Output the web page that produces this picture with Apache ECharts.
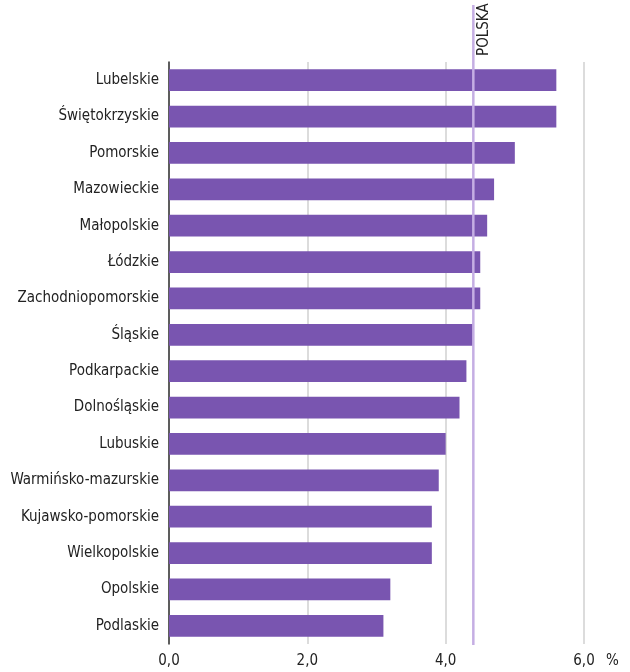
<!DOCTYPE html>
<html><head><meta charset="utf-8">
<script src="https://cdn.jsdelivr.net/npm/echarts@6/dist/echarts.min.js"></script>
<style>html,body{margin:0;padding:0;background:#fff}#c{width:630px;height:672px}</style>
</head><body><div id="c"></div>
<script>
const categories = ["Lubelskie","Świętokrzyskie","Pomorskie","Mazowieckie","Małopolskie","Łódzkie","Zachodniopomorskie","Śląskie","Podkarpackie","Dolnośląskie","Lubuskie","Warmińsko-mazurskie","Kujawsko-pomorskie","Wielkopolskie","Opolskie","Podlaskie"];
const values = [5.6,5.6,5.0,4.7,4.6,4.5,4.5,4.4,4.3,4.2,4.0,3.9,3.8,3.8,3.2,3.1];
const polskaValue = 4.4;
const polskaLabel = "POLSKA";
const unit = "%";

const FONT = '"DejaVu Sans Condensed","Liberation Sans Narrow",sans-serif';
const chart = echarts.init(document.getElementById('c'));
chart.setOption({
  animation:false,
  grid:{left:169,right:46,top:62,bottom:28,containLabel:false},
  xAxis:{type:'value',min:0,max:6,interval:2,
    name:unit,nameLocation:'end',nameGap:22,
    nameTextStyle:{fontFamily:FONT,fontSize:15,color:'#222',verticalAlign:'top',padding:[10,0,0,0]},
    axisLine:{show:false},axisTick:{show:false},
    axisLabel:{fontFamily:FONT,fontSize:15,color:'#222',margin:10,
      formatter:v=>v.toFixed(1).replace('.',',')},
    splitLine:{show:true,lineStyle:{color:'#dcdcdc',width:2}}},
  yAxis:{type:'category',data:categories,inverse:true,
    axisLine:{show:true,lineStyle:{color:'#333',width:1.5}},
    axisTick:{show:false},
    axisLabel:{fontFamily:FONT,fontSize:15,color:'#222',margin:10}},
  series:[{type:'bar',data:values,barCategoryGap:'40%',
    itemStyle:{color:'#7955b0'}}]
});
const px = chart.convertToPixel({xAxisIndex:0}, polskaValue);
chart.setOption({graphic:[
  {type:'line',z:10,shape:{x1:px,y1:5,x2:px,y2:645},style:{stroke:'#c5aee3',lineWidth:2.5}},
  {type:'text',z:10,x:px+3,y:56,rotation:Math.PI/2,
    style:{text:polskaLabel,fontFamily:FONT,fontSize:15,fill:'#222',align:'left',verticalAlign:'top'}}
]});
</script></body></html>
